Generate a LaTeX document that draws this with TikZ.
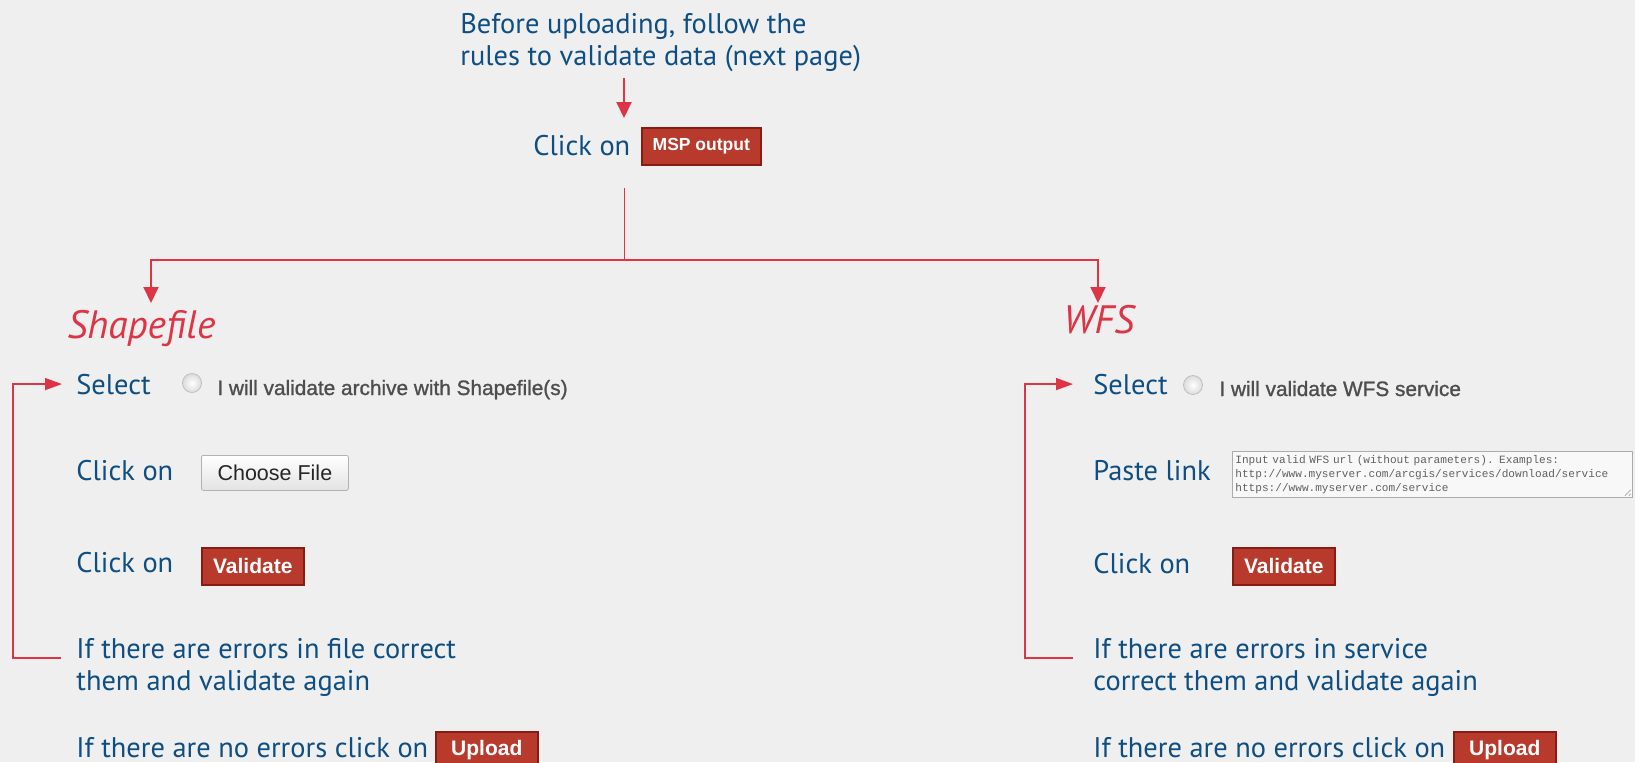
\documentclass[tikz,border=0pt]{standalone}
\usepackage{fontspec}
\setmainfont{PT Sans}
\newfontfamily\btnfont{Liberation Sans}
\newfontfamily\optfont[FakeBold=1.2]{Liberation Sans}
\newfontfamily\areafont{Liberation Mono}
\usetikzlibrary{arrows.meta}

\definecolor{bgcol}{RGB}{239,239,239}
\definecolor{stepblue}{RGB}{14,78,130}
\definecolor{linered}{RGB}{221,52,70}
\definecolor{btnred}{RGB}{184,58,44}
\definecolor{btnedge}{RGB}{135,28,18}
\definecolor{optgray}{RGB}{78,78,78}

\tikzset{
  steptext/.style={anchor=base west, inner sep=0, text=stepblue, font=\fontsize{14.2}{17}\selectfont},
  headtext/.style={anchor=base west, inner sep=0, text=linered, font=\fontsize{19.8}{23}\selectfont\itshape},
  opttext/.style={anchor=base west, inner sep=0, text=optgray, font=\optfont\fontsize{10.4}{12}\selectfont},
  redbtn/.style={anchor=north west, inner sep=0, minimum width=51pt, minimum height=18.5pt,
    fill=btnred, draw=btnedge, line width=0.8pt, text=white, font=\btnfont\bfseries\fontsize{10.5}{12}\selectfont},
  filebtn/.style={anchor=north west, inner sep=0, minimum width=73.5pt, minimum height=17.5pt,
    draw=gray!60, top color=white, bottom color=gray!22, rounded corners=1pt,
    text=black!85, font=\btnfont\fontsize{10.75}{12}\selectfont},
  radio/.style={circle, inner sep=0, minimum size=9.5pt, draw=gray!50, inner color=white, outer color=gray!28},
  urlarea/.style={anchor=north west, inner xsep=1.5pt, inner ysep=1pt, text width=197pt, align=left,
    minimum height=23pt, draw=gray!65, fill=white!55!bgcol, text=gray!75!black,
    font=\areafont\fontsize{5.55}{7}\selectfont},
  redarrow/.style={draw=linered, line width=1pt, -{Triangle[length=8pt,width=7.5pt]}},
  stemline/.style={draw=linered, line width=0.5pt},
  loopline/.style={draw=linered, line width=0.75pt, -{Triangle[length=8.5pt,width=6pt]}}
}

\begin{document}
\begin{tikzpicture}[x=0.5pt,y=-0.5pt]
\fill[bgcol] (0,0) rectangle (1635,762);
\useasboundingbox (0,0) rectangle (1635,762);

% start
\node[steptext] (introA) at (460,33) {Before uploading, follow the};
\node[steptext] (introB) at (460,65) {rules to validate data (next page)};
\node[steptext] (clickTop) at (533,155) {Click on};
\node[redbtn, minimum width=59.5pt, font=\btnfont\bfseries\fontsize{8.75}{10}\selectfont] (msp) at (641,127) {MSP output};

\coordinate (introTail) at (624,78);
\coordinate (introTip) at (624,118);
\draw[redarrow] (introTail) -- (introTip);

% split
\coordinate (stem) at (624,188);
\coordinate (fork) at (624,260);
\coordinate (shpTip) at (151,303);
\coordinate (wfsTip) at (1098,303);
\draw[stemline] (stem) -- (fork);
\draw[redarrow] (fork) -| (shpTip);
\draw[redarrow] (fork) -| (wfsTip);

\node[headtext] (shp) at (67,338) {Shapefile};
\node[headtext] (wfs) at (1063,333) {WFS};

% shapefile column
\node[steptext] (selectL) at (76,394) {Select};
\node[radio] (radioL) at (192,383) {};
\node[opttext] (optL) at (217,395) {I will validate archive with Shapefile(s)};
\node[steptext] (chooseTxtL) at (76,480) {Click on};
\node[filebtn] (chooseL) at (201,455) {Choose File};
\node[steptext] (validTxtL) at (76,572) {Click on};
\node[redbtn] (validL) at (201,547) {Validate};
\node[steptext] (errL1) at (76,658) {If there are errors in file correct};
\node[steptext] (errL2) at (76,690) {them and validate again};
\node[steptext] (okL) at (76,757) {If there are no errors click on};
\node[redbtn] (uploadL) at (435,731) {Upload};

\draw[loopline] ([xshift=-7.5pt]errL1.base west) -| ([xshift=-31.5pt]selectL.west) -- ([xshift=-7pt]selectL.west);

% wfs column
\node[steptext] (selectR) at (1093,394) {Select};
\node[radio] (radioR) at (1193,385) {};
\node[opttext] (optR) at (1219,396) {I will validate WFS service};
\node[steptext] (pasteR) at (1093,480) {Paste link};
\node[urlarea] (urlbox) at (1232,451) {Input valid WFS url (without parameters). Examples:\\
http://www.myserver.com/arcgis/services/download/service\\
https://www.myserver.com/service};
\draw[gray!70, line width=0.3pt] ([xshift=-4pt,yshift=1pt]urlbox.south east) -- ([xshift=-1pt,yshift=4pt]urlbox.south east);
\draw[gray!70, line width=0.3pt] ([xshift=-2pt,yshift=1pt]urlbox.south east) -- ([xshift=-1pt,yshift=2pt]urlbox.south east);
\node[steptext] (validTxtR) at (1093,573) {Click on};
\node[redbtn] (validR) at (1232,547) {Validate};
\node[steptext] (errR1) at (1093,658) {If there are errors in service};
\node[steptext] (errR2) at (1093,690) {correct them and validate again};
\node[steptext] (okR) at (1093,757) {If there are no errors click on};
\node[redbtn] (uploadR) at (1453,731) {Upload};

\draw[loopline] ([xshift=-10pt]errR1.base west) -| ([xshift=-34pt]selectR.west) -- ([xshift=-10pt]selectR.west);
\end{tikzpicture}
\end{document}
